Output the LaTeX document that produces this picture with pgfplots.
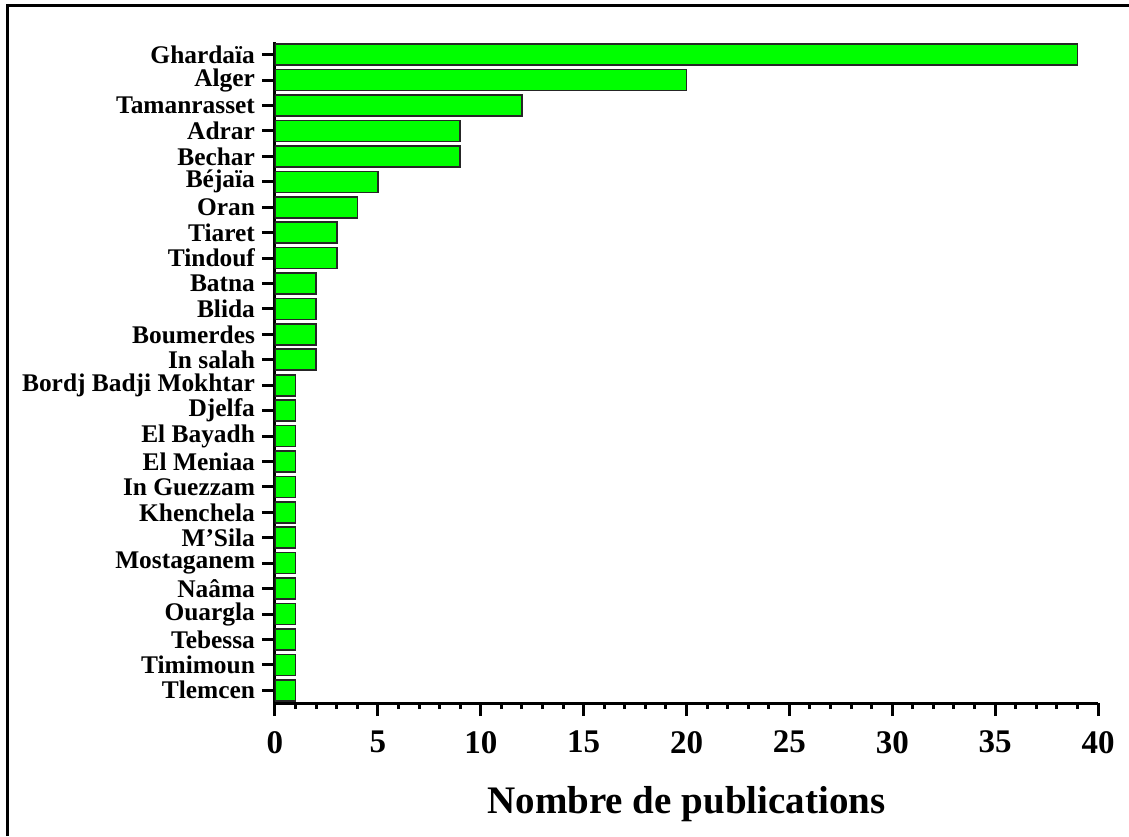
\documentclass[border=0pt]{standalone}
\usepackage{fontspec}
\setmainfont{Liberation Serif}
\usepackage{pgfplots}
\pgfplotsset{compat=1.18}
\definecolor{bargreen}{RGB}{0,255,0}
\begin{document}
\begin{tikzpicture}
\useasboundingbox (0,0) rectangle (564.5pt,418pt);
% frame (top and left edges only, as in the source image)
\draw[line width=1.5pt] (3.75pt,0) -- (3.75pt,415.25pt) -- (564.5pt,415.25pt);
\begin{axis}[
  at={(137.5pt,66.5pt)}, anchor=south west,
  scale only axis,
  width=411.5pt, height=330.5pt,
  xbar, bar width=10.5pt,
  xmin=0, xmax=40,
  ymin=-0.5, ymax=25.5, y dir=reverse,
  axis x line*=bottom, axis y line*=left,
  axis line style={-, line width=1.5pt},
  xtick={0,5,...,40}, minor x tick num=4,
  ytick={0,...,25},
  yticklabels={Ghardaïa, Alger, Tamanrasset, Adrar, Bechar, Béjaïa, Oran, Tiaret, Tindouf, Batna, Blida, Boumerdes, In salah, Bordj Badji Mokhtar, Djelfa, El Bayadh, El Meniaa, In Guezzam, Khenchela, M’Sila, Mostaganem, Naâma, Ouargla, Tebessa, Timimoun, Tlemcen},
  tick align=outside, xtick pos=bottom, ytick pos=left,
  major tick length=6.5pt, minor tick length=3pt,
  every tick/.style={black, line width=1.5pt},
  /pgf/number format/assume math mode=true,
  xticklabel style={font=\bfseries\fontsize{16.5}{17}\selectfont, yshift=-4pt},
  yticklabel style={font=\bfseries\fontsize{12.7}{13}\selectfont},
  xlabel={Nombre de publications},
  xlabel style={font=\bfseries\fontsize{19.5}{20}\selectfont, at={(rel axis cs:0.5,0)}, anchor=center, yshift=-50.5pt},
]
\addplot[fill=bargreen, draw=black!85, line width=0.8pt] coordinates {
  (39,0) (20,1) (12,2) (9,3) (9,4) (5,5) (4,6) (3,7) (3,8)
  (2,9) (2,10) (2,11) (2,12)
  (1,13) (1,14) (1,15) (1,16) (1,17) (1,18) (1,19) (1,20)
  (1,21) (1,22) (1,23) (1,24) (1,25)
};
\end{axis}
\end{tikzpicture}
\end{document}
